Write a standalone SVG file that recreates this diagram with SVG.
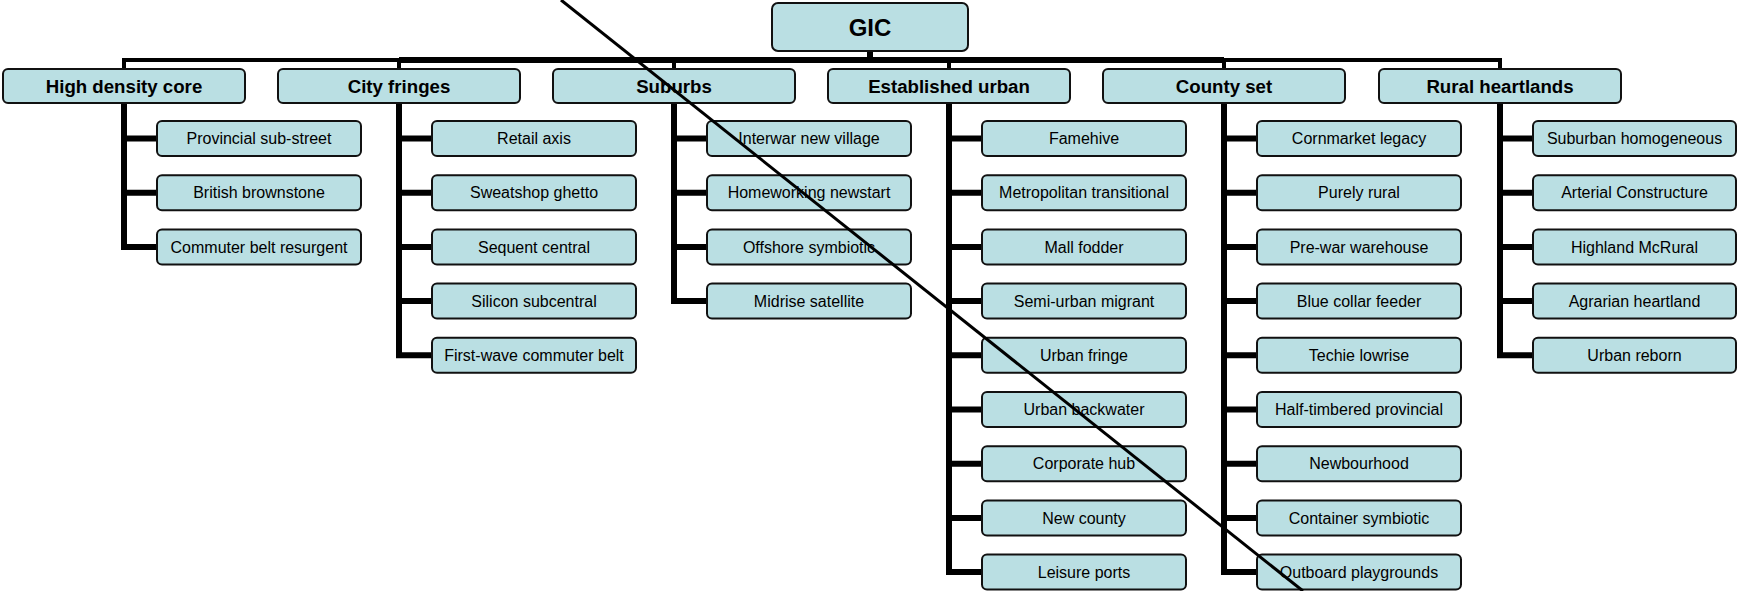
<svg xmlns="http://www.w3.org/2000/svg" width="1738" height="591" viewBox="0 0 1738 591">
<style>
.box{fill:#BADFE3;stroke:#111;stroke-width:2}
.t{font-family:"Liberation Sans",Arial,sans-serif;fill:#000;text-anchor:middle}
.c{font-size:16px}
.p{font-size:18.67px;font-weight:bold}
.r{font-size:24px;font-weight:bold}
.ln{fill:none;stroke:#000;stroke-linejoin:miter;stroke-linecap:butt}
</style>
<g id="connectors">
<path class="ln" stroke-width="4" d="M124 69V60H399M1224 60H1500V69M399 60V69M674 60V69M949 60V69M1224 60V69"/>
<path class="ln" stroke-width="6" d="M399 60H1224M870 51V60"/>
<g stroke-width="6" class="ln">
<path d="M124 103V246.9H157M124 138.5H157M124 192.7H157"/>
<path d="M399 103V355.3H432M399 138.5H432M399 192.7H432M399 246.9H432M399 301.1H432"/>
<path d="M674 103V301.1H707M674 138.5H707M674 192.7H707M674 246.9H707"/>
<path d="M949 103V572.1H982M949 138.5H982M949 192.7H982M949 246.9H982M949 301.1H982M949 355.3H982M949 409.5H982M949 463.7H982M949 517.9H982"/>
<path d="M1224 103V572.1H1257M1224 138.5H1257M1224 192.7H1257M1224 246.9H1257M1224 301.1H1257M1224 355.3H1257M1224 409.5H1257M1224 463.7H1257M1224 517.9H1257"/>
<path d="M1500 103V355.3H1533M1500 138.5H1533M1500 192.7H1533M1500 246.9H1533M1500 301.1H1533"/>
</g>
</g>
<g id="gic"><rect class="box" x="772" y="3" width="196" height="48" rx="6"/><text class="t r" x="870" y="35.5">GIC</text></g>
<g id="high-density-core"><rect class="box" x="3" y="69" width="242" height="34" rx="5"/><text class="t p" x="124" y="92.5">High density core</text></g>
<g id="city-fringes"><rect class="box" x="278" y="69" width="242" height="34" rx="5"/><text class="t p" x="399" y="92.5">City fringes</text></g>
<g id="suburbs"><rect class="box" x="553" y="69" width="242" height="34" rx="5"/><text class="t p" x="674" y="92.5">Suburbs</text></g>
<g id="established-urban"><rect class="box" x="828" y="69" width="242" height="34" rx="5"/><text class="t p" x="949" y="92.5">Established urban</text></g>
<g id="county-set"><rect class="box" x="1103" y="69" width="242" height="34" rx="5"/><text class="t p" x="1224" y="92.5">County set</text></g>
<g id="rural-heartlands"><rect class="box" x="1379" y="69" width="242" height="34" rx="5"/><text class="t p" x="1500" y="92.5">Rural heartlands</text></g>

<g id="provincial-sub-street"><rect class="box" x="157" y="121" width="204" height="35" rx="5"/><text class="t c" x="259" y="144.2">Provincial sub-street</text></g>
<g id="british-brownstone"><rect class="box" x="157" y="175.2" width="204" height="35" rx="5"/><text class="t c" x="259" y="198.4">British brownstone</text></g>
<g id="commuter-belt-resurgent"><rect class="box" x="157" y="229.4" width="204" height="35" rx="5"/><text class="t c" x="259" y="252.6">Commuter belt resurgent</text></g>

<g id="retail-axis"><rect class="box" x="432" y="121" width="204" height="35" rx="5"/><text class="t c" x="534" y="144.2">Retail axis</text></g>
<g id="sweatshop-ghetto"><rect class="box" x="432" y="175.2" width="204" height="35" rx="5"/><text class="t c" x="534" y="198.4">Sweatshop ghetto</text></g>
<g id="sequent-central"><rect class="box" x="432" y="229.4" width="204" height="35" rx="5"/><text class="t c" x="534" y="252.6">Sequent central</text></g>
<g id="silicon-subcentral"><rect class="box" x="432" y="283.6" width="204" height="35" rx="5"/><text class="t c" x="534" y="306.8">Silicon subcentral</text></g>
<g id="first-wave-commuter-belt"><rect class="box" x="432" y="337.8" width="204" height="35" rx="5"/><text class="t c" x="534" y="361">First-wave commuter belt</text></g>

<g id="interwar-new-village"><rect class="box" x="707" y="121" width="204" height="35" rx="5"/><text class="t c" x="809" y="144.2">Interwar new village</text></g>
<g id="homeworking-newstart"><rect class="box" x="707" y="175.2" width="204" height="35" rx="5"/><text class="t c" x="809" y="198.4">Homeworking newstart</text></g>
<g id="offshore-symbiotic"><rect class="box" x="707" y="229.4" width="204" height="35" rx="5"/><text class="t c" x="809" y="252.6">Offshore symbiotic</text></g>
<g id="midrise-satellite"><rect class="box" x="707" y="283.6" width="204" height="35" rx="5"/><text class="t c" x="809" y="306.8">Midrise satellite</text></g>

<g id="famehive"><rect class="box" x="982" y="121" width="204" height="35" rx="5"/><text class="t c" x="1084" y="144.2">Famehive</text></g>
<g id="metropolitan-transitional"><rect class="box" x="982" y="175.2" width="204" height="35" rx="5"/><text class="t c" x="1084" y="198.4">Metropolitan transitional</text></g>
<g id="mall-fodder"><rect class="box" x="982" y="229.4" width="204" height="35" rx="5"/><text class="t c" x="1084" y="252.6">Mall fodder</text></g>
<g id="semi-urban-migrant"><rect class="box" x="982" y="283.6" width="204" height="35" rx="5"/><text class="t c" x="1084" y="306.8">Semi-urban migrant</text></g>
<g id="urban-fringe"><rect class="box" x="982" y="337.8" width="204" height="35" rx="5"/><text class="t c" x="1084" y="361">Urban fringe</text></g>
<g id="urban-backwater"><rect class="box" x="982" y="392" width="204" height="35" rx="5"/><text class="t c" x="1084" y="415.2">Urban backwater</text></g>
<g id="corporate-hub"><rect class="box" x="982" y="446.2" width="204" height="35" rx="5"/><text class="t c" x="1084" y="469.4">Corporate hub</text></g>
<g id="new-county"><rect class="box" x="982" y="500.4" width="204" height="35" rx="5"/><text class="t c" x="1084" y="523.6">New county</text></g>
<g id="leisure-ports"><rect class="box" x="982" y="554.6" width="204" height="35" rx="5"/><text class="t c" x="1084" y="577.8">Leisure ports</text></g>

<g id="cornmarket-legacy"><rect class="box" x="1257" y="121" width="204" height="35" rx="5"/><text class="t c" x="1359" y="144.2">Cornmarket legacy</text></g>
<g id="purely-rural"><rect class="box" x="1257" y="175.2" width="204" height="35" rx="5"/><text class="t c" x="1359" y="198.4">Purely rural</text></g>
<g id="pre-war-warehouse"><rect class="box" x="1257" y="229.4" width="204" height="35" rx="5"/><text class="t c" x="1359" y="252.6">Pre-war warehouse</text></g>
<g id="blue-collar-feeder"><rect class="box" x="1257" y="283.6" width="204" height="35" rx="5"/><text class="t c" x="1359" y="306.8">Blue collar feeder</text></g>
<g id="techie-lowrise"><rect class="box" x="1257" y="337.8" width="204" height="35" rx="5"/><text class="t c" x="1359" y="361">Techie lowrise</text></g>
<g id="half-timbered-provincial"><rect class="box" x="1257" y="392" width="204" height="35" rx="5"/><text class="t c" x="1359" y="415.2">Half-timbered provincial</text></g>
<g id="newbourhood"><rect class="box" x="1257" y="446.2" width="204" height="35" rx="5"/><text class="t c" x="1359" y="469.4">Newbourhood</text></g>
<g id="container-symbiotic"><rect class="box" x="1257" y="500.4" width="204" height="35" rx="5"/><text class="t c" x="1359" y="523.6">Container symbiotic</text></g>
<g id="outboard-playgrounds"><rect class="box" x="1257" y="554.6" width="204" height="35" rx="5"/><text class="t c" x="1359" y="577.8">Outboard playgrounds</text></g>

<g id="suburban-homogeneous"><rect class="box" x="1533" y="121" width="203" height="35" rx="5"/><text class="t c" x="1634.5" y="144.2">Suburban homogeneous</text></g>
<g id="arterial-constructure"><rect class="box" x="1533" y="175.2" width="203" height="35" rx="5"/><text class="t c" x="1634.5" y="198.4">Arterial Constructure</text></g>
<g id="highland-mcrural"><rect class="box" x="1533" y="229.4" width="203" height="35" rx="5"/><text class="t c" x="1634.5" y="252.6">Highland McRural</text></g>
<g id="agrarian-heartland"><rect class="box" x="1533" y="283.6" width="203" height="35" rx="5"/><text class="t c" x="1634.5" y="306.8">Agrarian heartland</text></g>
<g id="urban-reborn"><rect class="box" x="1533" y="337.8" width="203" height="35" rx="5"/><text class="t c" x="1634.5" y="361">Urban reborn</text></g>

<line x1="561" y1="0" x2="1303" y2="591" stroke="#000" stroke-width="3"/>
</svg>
